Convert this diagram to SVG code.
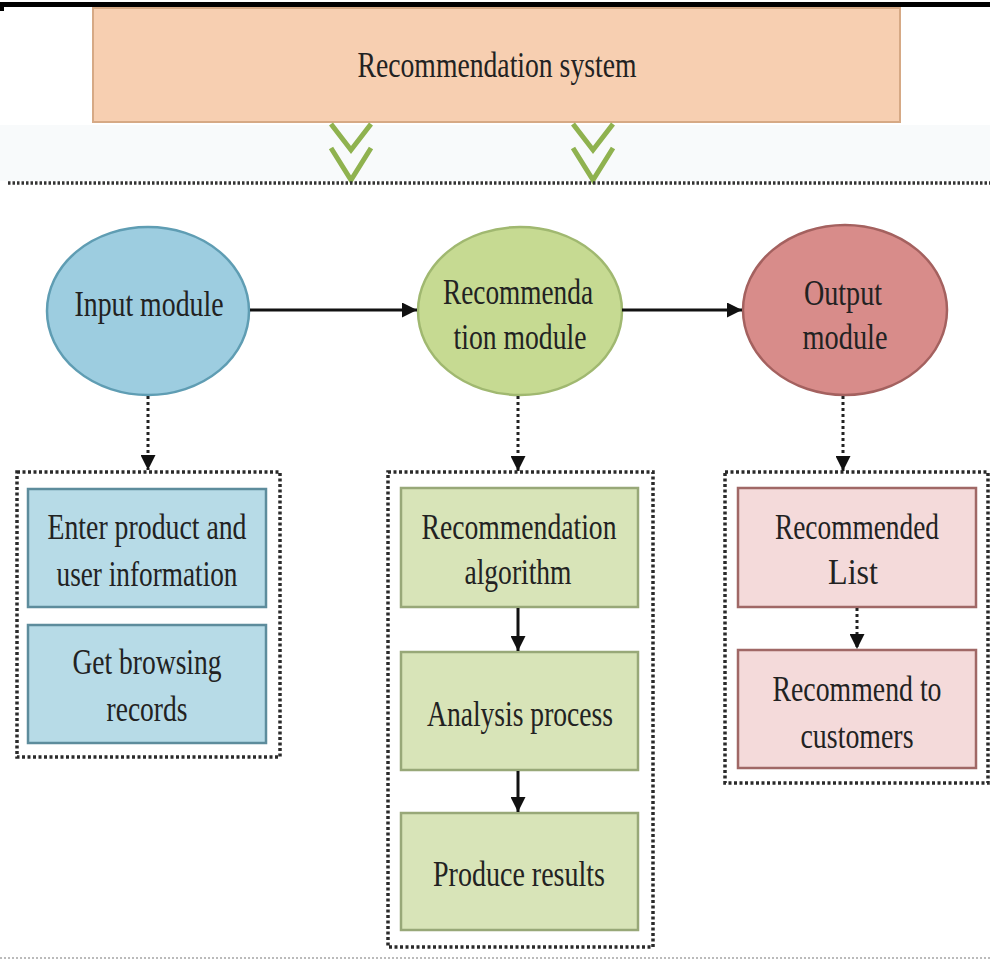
<svg xmlns="http://www.w3.org/2000/svg" width="990" height="962" viewBox="0 0 990 962">
<defs>
<style>
text{font-family:"Liberation Serif","Times New Roman",serif;font-size:36px;text-anchor:middle;fill:#222;}
.conn{stroke:#111;stroke-width:3;fill:none;}
.dash{stroke:#222;stroke-width:3;fill:none;stroke-dasharray:3 3;}
.cont{fill:none;stroke:#2a2a2a;stroke-width:3.5;stroke-dasharray:3 2.5;}
.chev{fill:none;stroke:#8fb24f;stroke-width:5;}
.bIn{fill:#b7dbe7;stroke:#5d8c9c;stroke-width:2.5;}
.bRec{fill:#d8e4b8;stroke:#98a878;stroke-width:2.5;}
.bOut{fill:#f4dada;stroke:#a06866;stroke-width:2.5;}
</style>
<marker id="ah" viewBox="0 0 10 10" refX="10" refY="5" markerWidth="5.5" markerHeight="5" orient="auto" markerUnits="strokeWidth">
<path d="M0,0 L10,5 L0,10 z" fill="#111"/>
</marker>
</defs>
<rect x="0" y="0" width="990" height="962" fill="#ffffff"/>
<rect x="0" y="125" width="990" height="56" fill="#f8fafb"/>
<rect x="0" y="2" width="990" height="5" fill="#000"/>
<rect x="0" y="7" width="4" height="4" fill="#000"/>

<g id="system">
<rect x="93" y="8" width="807" height="114" fill="#f7cfb1" stroke="#d6a985" stroke-width="2"/>
<text x="497" y="77" textLength="279" lengthAdjust="spacingAndGlyphs">Recommendation system</text>
</g>

<g id="separators">
<polyline class="chev" points="331,124 351,150 371,124"/>
<polyline class="chev" points="331,148 351,180 371,148"/>
<polyline class="chev" points="573,124 593,150 613,124"/>
<polyline class="chev" points="573,148 593,180 613,148"/>
<line x1="8" y1="183" x2="990" y2="183" stroke="#333" stroke-width="3.5" stroke-dasharray="2.5 2"/>
<line x1="0" y1="958" x2="990" y2="958" stroke="#bbb" stroke-width="2" stroke-dasharray="2 2"/>
</g>

<g id="input-module">
<ellipse cx="148" cy="311" rx="101" ry="84" fill="#9dcde0" stroke="#5f9db3" stroke-width="2.5"/>
<text x="149" y="316" textLength="149" lengthAdjust="spacingAndGlyphs">Input module</text>
</g>
<g id="recommendation-module">
<ellipse cx="520" cy="311" rx="102" ry="84" fill="#c6da92" stroke="#a0b870" stroke-width="2.5"/>
<text x="518" y="304" textLength="150" lengthAdjust="spacingAndGlyphs">Recommenda</text>
<text x="520" y="349" textLength="133" lengthAdjust="spacingAndGlyphs">tion module</text>
</g>
<g id="output-module">
<ellipse cx="845" cy="310" rx="102" ry="85" fill="#d88c8a" stroke="#a4615f" stroke-width="2.5"/>
<text x="843" y="305" textLength="78" lengthAdjust="spacingAndGlyphs">Output</text>
<text x="845" y="349" textLength="85" lengthAdjust="spacingAndGlyphs">module</text>
</g>

<g id="input-group">
<rect class="cont" x="17" y="472" width="263" height="285"/>
<g id="enter-info">
<rect class="bIn" x="28" y="489" width="238" height="118"/>
<text x="147" y="539" textLength="199" lengthAdjust="spacingAndGlyphs">Enter product and</text>
<text x="147" y="586" textLength="181" lengthAdjust="spacingAndGlyphs">user information</text>
</g>
<g id="browsing">
<rect class="bIn" x="28" y="625" width="238" height="118"/>
<text x="147" y="674" textLength="149" lengthAdjust="spacingAndGlyphs">Get browsing</text>
<text x="147" y="721" textLength="81" lengthAdjust="spacingAndGlyphs">records</text>
</g>
</g>

<g id="rec-group">
<rect class="cont" x="388" y="472" width="265" height="475"/>
<g id="algorithm">
<rect class="bRec" x="401" y="488" width="237" height="119"/>
<text x="519" y="539" textLength="195" lengthAdjust="spacingAndGlyphs">Recommendation</text>
<text x="518" y="584" textLength="107" lengthAdjust="spacingAndGlyphs">algorithm</text>
</g>
<g id="analysis">
<rect class="bRec" x="401" y="652" width="237" height="118"/>
<text x="520" y="726" textLength="186" lengthAdjust="spacingAndGlyphs">Analysis process</text>
</g>
<g id="results">
<rect class="bRec" x="401" y="813" width="237" height="117"/>
<text x="519" y="886" textLength="172" lengthAdjust="spacingAndGlyphs">Produce results</text>
</g>
</g>

<g id="out-group">
<rect class="cont" x="725" y="472" width="263" height="311"/>
<g id="list">
<rect class="bOut" x="738" y="488" width="238" height="119"/>
<text x="857" y="539" textLength="164" lengthAdjust="spacingAndGlyphs">Recommended</text>
<text x="853" y="584" textLength="50" lengthAdjust="spacingAndGlyphs">List</text>
</g>
<g id="customers">
<rect class="bOut" x="738" y="650" width="238" height="118"/>
<text x="857" y="701" textLength="169" lengthAdjust="spacingAndGlyphs">Recommend to</text>
<text x="857" y="748" textLength="113" lengthAdjust="spacingAndGlyphs">customers</text>
</g>
</g>

<g id="connectors">
<line class="conn" x1="250" y1="310" x2="417" y2="310" marker-end="url(#ah)"/>
<line class="conn" x1="622" y1="310" x2="742" y2="310" marker-end="url(#ah)"/>
<line class="dash" x1="148" y1="396" x2="148" y2="470" marker-end="url(#ah)"/>
<line class="dash" x1="518" y1="396" x2="518" y2="471" marker-end="url(#ah)"/>
<line class="dash" x1="843" y1="396" x2="843" y2="471" marker-end="url(#ah)"/>
<line class="conn" x1="518" y1="608" x2="518" y2="651" marker-end="url(#ah)"/>
<line class="conn" x1="518" y1="771" x2="518" y2="812" marker-end="url(#ah)"/>
<line class="dash" x1="857" y1="608" x2="857" y2="649" marker-end="url(#ah)"/>
</g>
</svg>
